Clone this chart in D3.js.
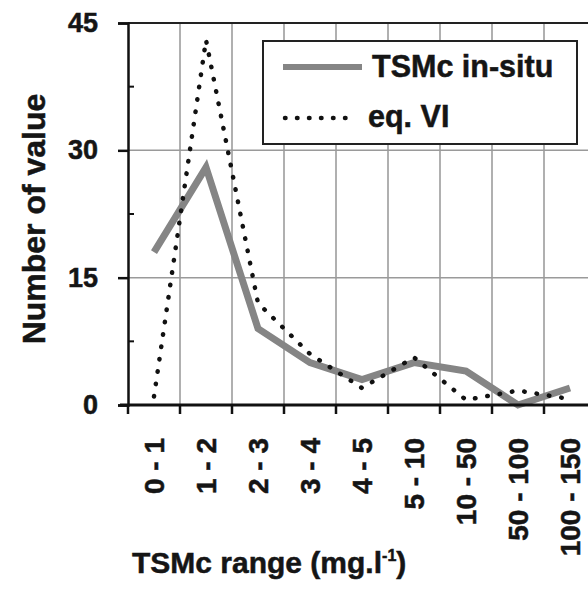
<!DOCTYPE html>
<html>
<head>
<meta charset="utf-8">
<script src="https://cdn.jsdelivr.net/npm/d3@7"></script>
<style>
  html, body { margin: 0; padding: 0; background: #fff; }
  svg { display: block; }
  text { font-family: "Liberation Sans", Arial, sans-serif; font-weight: bold; fill: #151515; stroke: #151515; stroke-width: 0.5px; }
</style>
</head>
<body>
<svg id="chart" width="588" height="593"></svg>
<script>
// ---- data ----
const categories = ["0 - 1", "1 - 2", "2 - 3", "3 - 4", "4 - 5", "5 - 10", "10 - 50", "50 - 100", "100 - 150"];
const inSitu = [18, 28, 9, 5, 3, 5, 4, 0, 2];
const eqVI = [1, 43, 12, 6, 2, 5.6, 0.6, 1.7, 0.7];
const yTicks = [0, 15, 30, 45];
const yMinorTicks = [7.5, 22.5, 37.5];
const seriesNames = ["TSMc in-situ", "eq. VI"];
const yTitle = "Number of value";
const xTitle = "TSMc range (mg.l";
const xTitleSup = "-1";

// ---- layout ----
const svg = d3.select("#chart");
const pLeft = 128, pRight = 596, pTop = 23, pBottom = 405;

const x = d3.scaleBand().domain(categories).range([pLeft, pRight]);
const y = d3.scaleLinear().domain([0, 45]).range([pBottom, pTop]);
const cx = d => x(d) + x.bandwidth() / 2;

// vertical gridlines at category boundaries
const bounds = categories.slice(1).map(c => x(c));
svg.append("g").selectAll("line").data(bounds).join("line")
  .attr("x1", d => d).attr("x2", d => d)
  .attr("y1", pTop).attr("y2", pBottom)
  .attr("stroke", "#b0b0b0").attr("stroke-width", 2);

// horizontal gridlines
svg.append("g").selectAll("line").data(yTicks.filter(t => t > 0 && t < 45)).join("line")
  .attr("x1", pLeft).attr("x2", pRight)
  .attr("y1", d => y(d)).attr("y2", d => y(d))
  .attr("stroke", "#9a9a9a").attr("stroke-width", 1.5);

// top border
svg.append("line")
  .attr("x1", pLeft).attr("x2", pRight)
  .attr("y1", y(45)).attr("y2", y(45))
  .attr("stroke", "#222").attr("stroke-width", 2);

// lines
const lineGen = d3.line().x((d, i) => cx(categories[i])).y(d => y(d));

svg.append("path").datum(inSitu)
  .attr("d", lineGen)
  .attr("fill", "none")
  .attr("stroke", "#858585")
  .attr("stroke-width", 7)
  .attr("stroke-linejoin", "miter");

svg.append("path").datum(eqVI)
  .attr("d", lineGen)
  .attr("fill", "none")
  .attr("stroke", "#111")
  .attr("stroke-width", 4.5)
  .attr("stroke-linecap", "round")
  .attr("stroke-dasharray", "0.5,12");

// y axis
const yAxis = d3.axisLeft(y).tickValues(yTicks).tickSize(10).tickPadding(20).tickFormat(d3.format("d"));
const gy = svg.append("g").attr("transform", `translate(${pLeft},0)`).call(yAxis);
gy.select(".domain").attr("stroke", "#111").attr("stroke-width", 2.5);
gy.selectAll(".tick line").attr("stroke", "#111").attr("stroke-width", 2.5);
gy.selectAll(".tick text").attr("font-size", 27).attr("font-family", "Liberation Sans").attr("font-weight", "bold").attr("fill", "#151515");
// minor ticks
svg.append("g").selectAll("line").data(yMinorTicks).join("line")
  .attr("x1", pLeft).attr("x2", pLeft + 6)
  .attr("y1", d => y(d)).attr("y2", d => y(d))
  .attr("stroke", "#111").attr("stroke-width", 2);

// x axis
const xAxis = d3.axisBottom(x).tickSize(0).tickPadding(0);
const gx = svg.append("g").attr("transform", `translate(0,${pBottom})`).call(xAxis);
gx.select(".domain").remove();
gx.selectAll(".tick text")
  .attr("font-size", 28).attr("font-family", "Liberation Sans").attr("font-weight", "bold").attr("fill", "#151515")
  .attr("transform", "rotate(-90)")
  .attr("text-anchor", "end")
  .attr("x", -33).attr("y", 0).attr("dy", "0.36em");
svg.append("line")
  .attr("x1", pLeft - 8).attr("x2", pRight)
  .attr("y1", pBottom).attr("y2", pBottom)
  .attr("stroke", "#111").attr("stroke-width", 3);
svg.append("g").selectAll("line").data([pLeft, ...bounds, pRight]).join("line")
  .attr("x1", d => d).attr("x2", d => d)
  .attr("y1", pBottom).attr("y2", pBottom + 9)
  .attr("stroke", "#111").attr("stroke-width", 2.5);

// axis titles
svg.append("text")
  .attr("transform", `translate(45,219) rotate(-90)`)
  .attr("text-anchor", "middle")
  .attr("font-size", 32)
  .text(yTitle);

const xt = svg.append("text").attr("x", 132).attr("y", 573).attr("font-size", 30);
xt.append("tspan").text(xTitle);
xt.append("tspan").attr("font-size", 16).attr("dy", -12).text(xTitleSup);
xt.append("tspan").attr("dy", 12).text(")");

// legend
const lg = svg.append("g");
lg.append("rect").attr("x", 263).attr("y", 41).attr("width", 314).attr("height", 103)
  .attr("fill", "#fff").attr("stroke", "#222").attr("stroke-width", 2);
lg.append("line").attr("x1", 283).attr("x2", 362).attr("y1", 67).attr("y2", 67)
  .attr("stroke", "#858585").attr("stroke-width", 6);
lg.append("line").attr("x1", 285).attr("x2", 357).attr("y1", 118).attr("y2", 118)
  .attr("stroke", "#111").attr("stroke-width", 4.5)
  .attr("stroke-linecap", "round").attr("stroke-dasharray", "0.5,11.5");
lg.append("text").attr("x", 372).attr("y", 77).attr("font-size", 30.5).text(seriesNames[0]);
lg.append("text").attr("x", 368).attr("y", 127).attr("font-size", 30.5).text(seriesNames[1]);
</script>
</body>
</html>
